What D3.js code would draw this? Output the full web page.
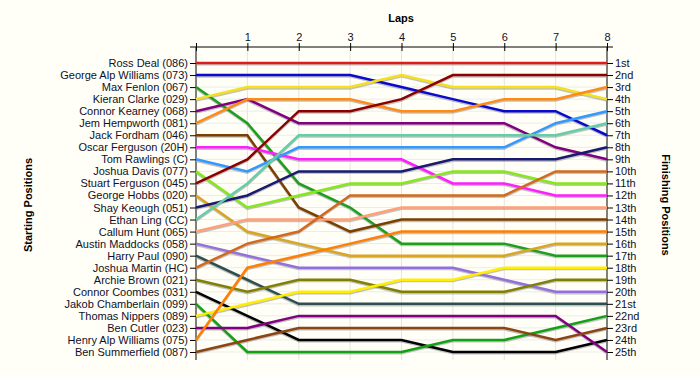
<!doctype html>
<html>
  <head>
    <title>Laps</title>
    <style>
      body { margin: 0; background: #fffff7; }
      svg { display: block; font-family: "Liberation Sans", Arial, sans-serif; }
      .lbl { font-size: 11px; fill: #10102a; }
      .ttl { font-size: 11px; font-weight: bold; fill: #000; }
    </style>
  </head>
  <script src="https://cdnjs.cloudflare.com/ajax/libs/d3/7.8.5/d3.min.js"></script>
  <body>
    <svg id="chart" width="700" height="375"></svg>
    <script>

    // riders in starting order
    var riders = ["Ross Deal (086)", "George Alp Williams (073)", "Max Fenlon (067)", "Kieran Clarke (029)",
      "Connor Kearney (068)", "Jem Hempworth (081)", "Jack Fordham (046)", "Oscar Ferguson (20H)",
      "Tom Rawlings (C)", "Joshua Davis (077)", "Stuart Ferguson (045)", "George Hobbs (020)",
      "Shay Keough (051)", "Ethan Ling (CC)", "Callum Hunt (065)", "Austin Maddocks (058)",
      "Harry Paul (090)", "Joshua Martin (HC)", "Archie Brown (021)", "Connor Coombes (031)",
      "Jakob Chamberlain (099)", "Thomas Nippers (089)", "Ben Cutler (023)", "Henry Alp Williams (075)",
      "Ben Summerfield (087)"];

    var colors = ["#dc1c1c", "#0a0acc", "#1e9e1e", "#f5e01c", "#800080", "#ff8a14", "#7b3f00", "#ff1eff",
      "#3399ff", "#84e81c", "#8b0000", "#daa520", "#191970", "#66cdaa", "#ffa07a", "#9370db",
      "#2f4f4f", "#d2691e", "#808000", "#000000", "#14a014", "#ffee00", "#800080", "#ff8000", "#8b4513"];

    // position at each lap (lap 0 .. lap 8)
    var positions = [
      [1,1,1,1,1,1,1,1,1],
      [2,2,2,2,3,4,5,5,7],
      [3,6,11,13,16,16,16,17,17],
      [4,3,3,3,2,3,3,3,4],
      [5,4,6,6,6,6,6,8,9],
      [6,4,4,4,5,5,4,4,3],
      [7,7,13,15,14,14,14,14,14],
      [8,8,9,9,9,11,11,12,12],
      [9,10,8,8,8,8,8,6,5],
      [10,13,12,11,11,10,10,11,11],
      [11,9,5,5,4,2,2,2,2],
      [12,15,16,17,17,17,17,16,16],
      [13,12,10,10,10,9,9,9,8],
      [14,11,7,7,7,7,7,7,6],
      [15,14,14,14,13,13,13,13,13],
      [16,17,18,18,18,18,19,20,20],
      [17,19,21,21,21,21,21,21,21],
      [18,16,15,12,12,12,12,10,10],
      [19,20,19,19,20,20,20,19,19],
      [20,22,24,24,24,25,25,25,24],
      [21,25,25,25,25,24,24,23,22],
      [22,21,20,20,19,19,18,18,18],
      [23,23,22,22,22,22,22,22,25],
      [24,18,17,16,15,15,15,15,15],
      [25,24,23,23,23,23,23,24,23]
    ];

    var laps = [0,1,2,3,4,5,6,7,8];
    var finishLabels = ["1st","2nd","3rd","4th","5th","6th","7th","8th","9th","10th","11th","12th","13th",
      "14th","15th","16th","17th","18th","19th","20th","21st","22nd","23rd","24th","25th"];

    var svg = d3.select("#chart");
    var x = d3.scaleLinear().domain([0, 8]).range([196, 607]);
    var y = d3.scaleLinear().domain([1, 25]).range([63, 352]);
    var ranks = d3.range(1, 26);

    // grid
    svg.append("g").selectAll("line").data(ranks).enter().append("line")
      .attr("x1", x(0)).attr("x2", x(8))
      .attr("y1", function(d){ return y(d); }).attr("y2", function(d){ return y(d); })
      .attr("stroke", "#ebebeb");
    svg.append("g").selectAll("line").data(laps.slice(1, 8)).enter().append("line")
      .attr("x1", function(d){ return x(d); }).attr("x2", function(d){ return x(d); })
      .attr("y1", 47).attr("y2", 360)
      .attr("stroke", "#e4e4e4");

    // axes
    var topAxis = svg.append("g").attr("transform", "translate(0,47)")
      .call(d3.axisTop(x).tickValues(laps).tickFormat(function(d){ return d === 0 ? "" : d; }).tickSize(4).tickPadding(2));
    topAxis.select(".domain").attr("d", "M190,0H613");
    topAxis.selectAll(".tick line").attr("y2", 4).attr("y1", -4);
    topAxis.selectAll("text").attr("class", "lbl").style("font-size", "11px").style("font-family", "Liberation Sans, Arial, sans-serif");

    var leftAxis = svg.append("g").attr("transform", "translate(" + x(0) + ",0)")
      .call(d3.axisLeft(y).tickValues(ranks).tickFormat(function(d){ return riders[d - 1]; }).tickSize(6).tickPadding(2));
    leftAxis.select(".domain").attr("d", "M0,47V360");
    leftAxis.selectAll("text").attr("class", "lbl").style("font-size", "11px").style("font-family", "Liberation Sans, Arial, sans-serif");

    var rightAxis = svg.append("g").attr("transform", "translate(" + x(8) + ",0)")
      .call(d3.axisRight(y).tickValues(ranks).tickFormat(function(d){ return finishLabels[d - 1]; }).tickSize(6).tickPadding(2));
    rightAxis.select(".domain").attr("d", "M0,47V360");
    rightAxis.selectAll("text").attr("class", "lbl").style("font-size", "11px").style("font-family", "Liberation Sans, Arial, sans-serif");

    // lines with a soft shadow
    var line = d3.line().x(function(d, i){ return x(laps[i]); }).y(function(d){ return y(d); });
    var g = svg.append("g");
    positions.forEach(function(p){
      g.append("path").attr("d", line(p)).attr("transform", "translate(0,1.5)")
        .attr("fill", "none").attr("stroke", "#9a9a9a").attr("stroke-opacity", 0.6).attr("stroke-width", 2.2);
    });
    positions.forEach(function(p, i){
      g.append("path").attr("d", line(p))
        .attr("fill", "none").attr("stroke", colors[i]).attr("stroke-width", 2.5);
    });

    // titles
    svg.append("text").attr("class", "ttl").attr("x", 401).attr("y", 22).attr("text-anchor", "middle").text("Laps");
    svg.append("text").attr("class", "ttl").attr("text-anchor", "middle")
      .attr("transform", "translate(32,205) rotate(-90)").text("Starting Positions");
    svg.append("text").attr("class", "ttl").attr("text-anchor", "middle")
      .attr("transform", "translate(662,205) rotate(90)").text("Finishing Positions");

  </script>
  </body>
</html>
